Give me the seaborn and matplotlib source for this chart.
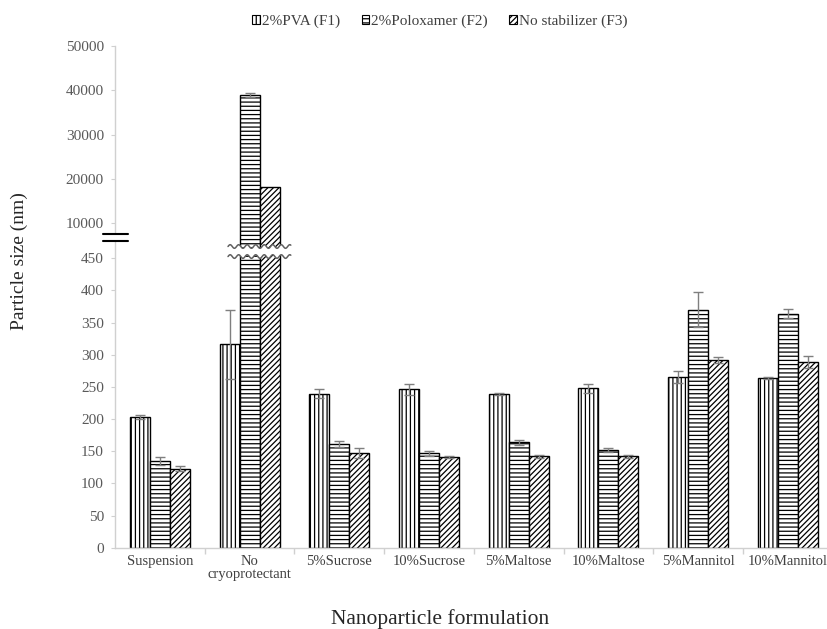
import numpy as np
import pandas as pd
import matplotlib
matplotlib.use('Agg')
import matplotlib.pyplot as plt
import seaborn as sns
from matplotlib.patches import Patch, Polygon, Rectangle
from matplotlib.ticker import FixedLocator
import matplotlib.transforms as mtransforms

sns.set_style('white')
plt.rcParams['font.family'] = ['Liberation Serif', 'DejaVu Serif']
plt.rcParams['hatch.linewidth'] = 0.9

# 数据
formulations = ['Suspension', 'No\ncryoprotectant', '5%Sucrose', '10%Sucrose',
                '5%Maltose', '10%Maltose', '5%Mannitol', '10%Mannitol']
stabilizers = ['2%PVA (F1)', '2%Poloxamer (F2)', 'No stabilizer (F3)']
pva = [203, 316, 239, 246, 239, 248, 265, 264]
pva_err = [3, 53, 7, 9, 1, 7, 9, 2]
polox = [135, 38900, 161, 147, 164, 152, 370, 364]
polox_err = [6, 500, 5, 4, 4, 3, 27, 7]
nostab = [123, 18200, 147, 141, 142, 142, 292, 289]
nostab_err = [4, 0, 8, 2, 2, 2, 5, 9]
yticks = [0, 50, 100, 150, 200, 250, 300, 350, 400, 450,
          10000, 20000, 30000, 40000, 50000]
hatches = ['||||', '----', '//////']

df = pd.DataFrame({
    'formulation': formulations * 3,
    'stabilizer': np.repeat(stabilizers, len(formulations)),
    'size': pva + polox + nostab,
    'err': pva_err + polox_err + nostab_err,
})

# 断轴：分段线性刻度
knot_v = [0, 450, 10000, 50000]
knot_p = [0, 289.4, 324.4, 502]

def fwd(v):
    return np.interp(v, knot_v, knot_p)

def inv(p):
    return np.interp(p, knot_p, knot_v)

fig = plt.figure(figsize=(8.27, 6.29), dpi=100)
ax = fig.add_axes([115 / 827, 81.3 / 629, 717.6 / 827, 502 / 629])

sns.barplot(data=df, x='formulation', y='size', hue='stabilizer',
            order=formulations, hue_order=stabilizers, errorbar=None,
            width=0.67, palette=['white'] * 3, edgecolor='black',
            linewidth=1, saturation=1, legend=False, ax=ax)

for cont, h in zip(ax.containers, hatches):
    for bar in cont:
        bar.set_hatch(h)

for cont, s in zip(ax.containers, stabilizers):
    sub = df[df.stabilizer == s]
    for bar, val, e in zip(cont, sub['size'], sub['err']):
        if e > 0:
            ax.errorbar(bar.get_x() + bar.get_width() / 2, val, yerr=e,
                        fmt='none', ecolor='#7f7f7f', elinewidth=1,
                        capsize=3.5, capthick=1, zorder=3)

ax.set_yscale('function', functions=(fwd, inv))
ax.set_ylim(0, 50000)
ax.set_xlim(-0.5, 7.5)
ax.yaxis.set_major_locator(FixedLocator(yticks))
ax.set_yticklabels([str(t) for t in yticks])
ax.yaxis.set_minor_locator(FixedLocator([]))

ax.set_xticks(range(len(formulations)))
ax.set_xticklabels(formulations, linespacing=1.05)
ax.set_xticks(np.arange(0.5, 7.5, 1), minor=True)
ax.tick_params(axis='x', which='major', length=0, pad=5, labelsize=10.5,
               labelcolor='#404040')
ax.tick_params(axis='x', which='minor', length=4, color='#d0d0d0', width=1,
               direction='out', bottom=True)
ax.tick_params(axis='y', length=3, color='#d0d0d0', pad=5, labelsize=11,
               labelcolor='#595959', left=True)
ax.set_xlabel('')
ax.set_ylabel('')

for side in ['top', 'right']:
    ax.spines[side].set_visible(False)
for side in ['left', 'bottom']:
    ax.spines[side].set_color('#d0d0d0')
    ax.spines[side].set_linewidth(1)

# 柱子上的波浪断口
trans = mtransforms.blended_transform_factory(ax.transData, ax.transAxes)
xs = np.linspace(0.76, 1.46, 120)
amp = 1.8 / 502
top = 0.600 + amp * np.sin((xs - 0.76) / 0.095 * 2 * np.pi)
bot = 0.580 + amp * np.sin((xs - 0.76) / 0.095 * 2 * np.pi)
band = Polygon(np.column_stack([np.r_[xs, xs[::-1]], np.r_[top, bot[::-1]]]),
               closed=True, facecolor='white', edgecolor='none',
               transform=trans, zorder=4)
ax.add_patch(band)
for yy in [top, bot]:
    ax.plot(xs, yy, color='#606060', lw=1.1, transform=trans, zorder=5)

# y轴断口符号
ax.add_patch(Rectangle((-0.017, 0.611), 0.035, 0.014, transform=ax.transAxes,
                       facecolor='white', edgecolor='none', clip_on=False, zorder=5))
for yy in [0.625, 0.611]:
    ax.plot([-0.017, 0.018], [yy, yy], color='black', lw=1.5,
            transform=ax.transAxes, clip_on=False, zorder=6)

handles = [Patch(facecolor='white', edgecolor='black', hatch=h, lw=0.8)
           for h in hatches]
fig.legend(handles, stabilizers, loc='center', bbox_to_anchor=(440 / 827, 1 - 21.7 / 629),
           ncol=3, frameon=False, fontsize=11, handlelength=0.5, handleheight=0.5,
           handletextpad=0.15, columnspacing=1.4, labelcolor='#404040')

fig.text(19 / 827, 1 - 261 / 629, 'Particle size (nm)', rotation=90,
         ha='center', va='center', fontsize=14)
fig.text(440 / 827, 1 - 624 / 629, 'Nanoparticle formulation',
         ha='center', va='baseline', fontsize=15.5)

fig.savefig('out.png', dpi=100)
